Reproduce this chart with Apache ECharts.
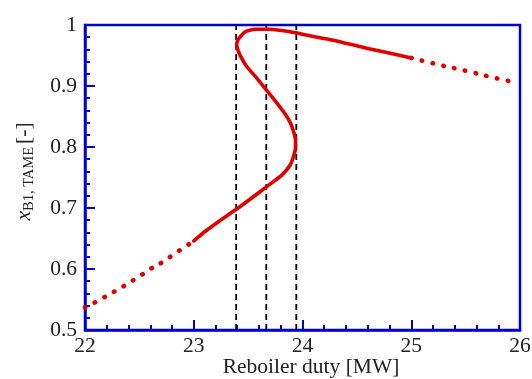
<!DOCTYPE html>
<html>
<head>
<meta charset="utf-8">
<script src="https://cdn.jsdelivr.net/npm/echarts@6/dist/echarts.min.js"></script>
<style>
  html, body { margin: 0; padding: 0; background: #fff; }
  #chart { width: 532px; height: 379px; }
</style>
</head>
<body>
<div id="chart"></div>
<script>
// lower branch, dotted part (x, y)
const lowDotX = [22.0, 22.11, 22.21, 22.31, 22.41, 22.51, 22.6, 22.71, 22.8, 22.9, 23.0];
const lowDotY = [0.537, 0.547, 0.557, 0.567, 0.578, 0.589, 0.6, 0.611, 0.622, 0.634, 0.646];

// solid S-shaped part, in order along the curve
const solidX = [23.0, 23.1, 23.23, 23.385, 23.53, 23.67, 23.81, 23.885, 23.922, 23.936, 23.936,
  23.922, 23.89, 23.848, 23.765, 23.67, 23.579, 23.487, 23.43, 23.402, 23.395, 23.405, 23.425,
  23.47, 23.56, 23.67, 23.81, 23.95, 24.02, 24.28, 24.59, 25.0];
const solidY = [0.646, 0.661, 0.678, 0.697, 0.716, 0.735, 0.754, 0.77, 0.787, 0.8, 0.811,
  0.823, 0.839, 0.852, 0.872, 0.893, 0.913, 0.932, 0.949, 0.961, 0.969, 0.975, 0.98,
  0.9885, 0.993, 0.993, 0.991, 0.987, 0.984, 0.975, 0.962, 0.946];

// upper branch, dotted part
const highDotX = [25.0, 25.25, 25.5, 25.75, 25.93];
const highDotY = [0.946, 0.935, 0.925, 0.914, 0.907];

// turning-point markers
const vLines = [23.39, 23.667, 23.943];

const xTicks = [22, 23, 24, 25, 26];
const yTicks = [0.5, 0.6, 0.7, 0.8, 0.9, 1];

const blue = "#0000d6";
const red = "#e00000";
const font = "Liberation Serif";

const pairs = (xs, ys) => xs.map((x, i) => [x, ys[i]]);

const chart = echarts.init(document.getElementById("chart"));

const dashSeries = vLines.map((x) => ({
  type: "line",
  data: [[x, yTicks[0]], [x, yTicks[yTicks.length - 1]]],
  symbol: "none",
  silent: true,
  lineStyle: { color: "#000", width: 1.8, type: [6, 4] },
  z: 1,
}));

const dotted = { color: red, width: 4.6, type: [0.5, 10.5], cap: "round" };

const option = {
  animation: false,
  backgroundColor: "#fff",
  grid: {
    left: 85,
    top: 25,
    width: 435,
    height: 305,
    outerBoundsMode: "none",
    containLabel: false,
    show: true,
    borderColor: blue,
    borderWidth: 2.5,
  },
  xAxis: {
    type: "value",
    min: xTicks[0],
    max: xTicks[xTicks.length - 1],
    interval: 1,
    name: "Reboiler duty [MW]",
    nameLocation: "middle",
    nameGap: 26,
    nameMoveOverlap: false,
    nameTextStyle: { fontFamily: font, fontSize: 21.5, color: "#222", padding: [0, 0, 0, 17] },
    axisLine: { show: true, lineStyle: { color: blue, width: 2.5 } },
    axisTick: { show: true, inside: true, length: 10, lineStyle: { color: blue, width: 2 } },
    minorTick: { show: true, splitNumber: 5, length: 5, lineStyle: { color: blue, width: 2 } },
    splitLine: { show: false },
    axisLabel: { fontFamily: font, fontSize: 21.5, color: "#222", margin: 5 },
  },
  yAxis: {
    type: "value",
    min: yTicks[0],
    max: yTicks[yTicks.length - 1],
    interval: 0.1,
    name: "{i|x}{s|B1, TAME} {n|[-]}",
    nameLocation: "middle",
    nameGap: 48,
    nameMoveOverlap: false,
    nameRotate: 90,
    nameTextStyle: {
      fontFamily: font,
      color: "#222",
      padding: [0, 0, 0, 12],
      rich: {
        i: { fontFamily: font, fontStyle: "italic", fontSize: 21.5, color: "#222" },
        s: { fontFamily: font, fontSize: 14.5, color: "#222", padding: [10, 0, 0, 0] },
        n: { fontFamily: font, fontSize: 21.5, color: "#222" },
      },
    },
    axisLine: { show: true, lineStyle: { color: blue, width: 2.5 } },
    axisTick: { show: true, inside: true, length: 10, lineStyle: { color: blue, width: 2 } },
    minorTick: { show: true, splitNumber: 5, length: 5, lineStyle: { color: blue, width: 2 } },
    splitLine: { show: false },
    axisLabel: {
      fontFamily: font,
      fontSize: 21.5,
      color: "#222",
      margin: 8,
      formatter: (v) => (v === 1 ? "1" : v.toFixed(1)),
    },
  },
  series: [
    ...dashSeries,
    {
      type: "line",
      data: pairs(lowDotX, lowDotY),
      symbol: "none",
      smooth: true,
      lineStyle: dotted,
      z: 3,
    },
    {
      type: "line",
      data: pairs(solidX, solidY),
      symbol: "none",
      smooth: 0.2,
      lineStyle: { color: red, width: 3.6, cap: "round", join: "round" },
      z: 3,
    },
    {
      type: "line",
      data: pairs(highDotX, highDotY),
      symbol: "none",
      smooth: true,
      lineStyle: dotted,
      z: 3,
    },
  ],
};

chart.setOption(option);
</script>
</body>
</html>
